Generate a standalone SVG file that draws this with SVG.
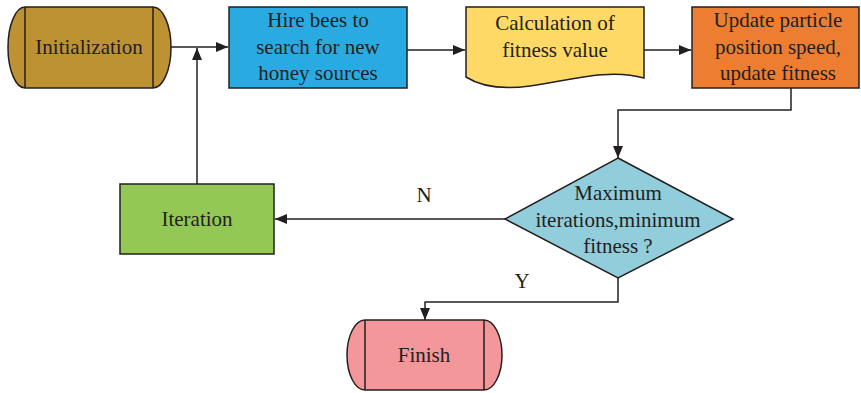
<svg xmlns="http://www.w3.org/2000/svg" width="861" height="393" viewBox="0 0 861 393">
<style>
.s{stroke:#231f20;stroke-width:1.5}
.t{font-family:"Liberation Serif","Times New Roman",serif;font-size:21px;fill:#231f20;text-anchor:middle}
.c{fill:none;stroke:#231f20;stroke-width:1.5}
</style>
<defs>
<marker id="ar" viewBox="0 0 12 10" refX="12" refY="5" markerWidth="12" markerHeight="10" markerUnits="userSpaceOnUse" orient="auto">
<path d="M0,0 L12,5 L0,10 Z" fill="#231f20"/>
</marker>
</defs>
<rect width="861" height="393" fill="#fff"/>
<g id="connectors">
<path class="c" d="M171,47 L228,47" marker-end="url(#ar)"/>
<path class="c" d="M197,184 L197,48" marker-end="url(#ar)"/>
<path class="c" d="M407,50 L465,50" marker-end="url(#ar)"/>
<path class="c" d="M644,50 L691,50" marker-end="url(#ar)"/>
<path class="c" d="M791,88 L791,110 L618,110 L618,158" marker-end="url(#ar)"/>
<path class="c" d="M505,219 L275,219" marker-end="url(#ar)"/>
<path class="c" d="M618,278 L618,302 L425,302 L425,320" marker-end="url(#ar)"/>
<text class="t" x="424" y="202">N</text>
<text class="t" x="522" y="288">Y</text>
</g>
<g id="initialization">
<path class="s" fill="#bd9232" d="M25,7 L153,7 A18,40.5 0 0 1 153,88 L25,88 A17,40.5 0 0 1 25,7 Z"/>
<path class="c" d="M25,7 L25,88 M153,7 L153,88"/>
<text class="t" x="89" y="54">Initialization</text>
</g>
<g id="hire">
<rect class="s" x="229" y="7" width="178" height="81" fill="#29abe2"/>
<text class="t" x="318" y="27">Hire bees to</text>
<text class="t" x="318" y="54">search for new</text>
<text class="t" x="318" y="80">honey sources</text>
</g>
<g id="calculation">
<path class="s" fill="#ffd966" d="M466,7 L644,7 L644,78 C610,68 570,80 530,86 C500,90 480,86 466,77 Z"/>
<text class="t" x="555" y="30">Calculation of</text>
<text class="t" x="555" y="57">fitness value</text>
</g>
<g id="update">
<rect class="s" x="692" y="7" width="167" height="81" fill="#ed7d31"/>
<text class="t" x="778" y="27">Update particle</text>
<text class="t" x="778" y="54">position speed,</text>
<text class="t" x="778" y="80">update fitness</text>
</g>
<g id="decision">
<path class="s" fill="#92cddc" d="M618,158 L733,219 L618,278 L505,219 Z"/>
<text class="t" x="618" y="200">Maximum</text>
<text class="t" x="618" y="227">iterations,minimum</text>
<text class="t" x="618" y="253">fitness ?</text>
</g>
<g id="iteration">
<rect class="s" x="120" y="184" width="154" height="70" fill="#92c853"/>
<text class="t" x="197" y="226">Iteration</text>
</g>
<g id="finish">
<path class="s" fill="#f4979a" d="M365,320 L484,320 A18,35 0 0 1 484,390 L365,390 A18,35 0 0 1 365,320 Z"/>
<path class="c" d="M365,320 L365,390 M484,320 L484,390"/>
<text class="t" x="424" y="362">Finish</text>
</g>
</svg>
